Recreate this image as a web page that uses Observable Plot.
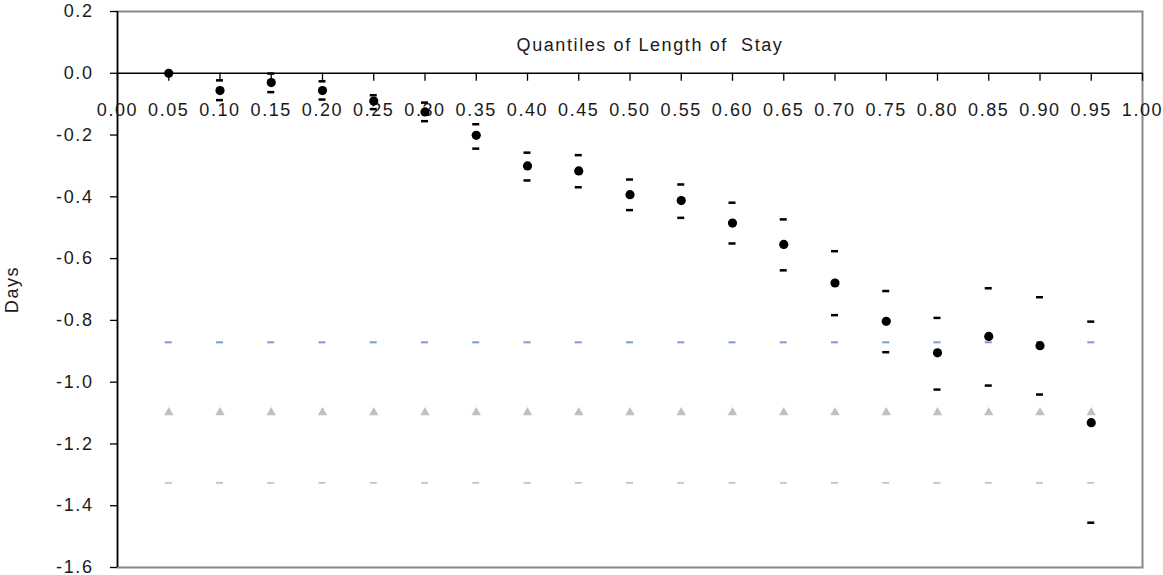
<!DOCTYPE html>
<html><head><meta charset="utf-8">
<script src="https://cdn.jsdelivr.net/npm/d3@7"></script>
<script src="https://cdn.jsdelivr.net/npm/@observablehq/plot@0.6"></script>
<style>
body{margin:0;background:#fff}
</style></head><body><div id="chart"></div>
<script>
// Quantiles of length of stay
const quantiles = [0.05,0.10,0.15,0.20,0.25,0.30,0.35,0.40,0.45,0.50,0.55,0.60,0.65,0.70,0.75,0.80,0.85,0.90,0.95];
// Point estimates (days)
const estimate = [0.000,-0.056,-0.030,-0.056,-0.090,-0.125,-0.201,-0.300,-0.316,-0.393,-0.412,-0.485,-0.554,-0.679,-0.803,-0.905,-0.852,-0.882,-1.131];
// Upper / lower confidence bounds
const upper = [0.000,-0.023,-0.001,-0.026,-0.071,-0.095,-0.165,-0.257,-0.265,-0.344,-0.360,-0.419,-0.473,-0.576,-0.705,-0.792,-0.696,-0.725,-0.804];
const lower = [0.000,-0.087,-0.061,-0.085,-0.116,-0.155,-0.244,-0.347,-0.369,-0.443,-0.468,-0.551,-0.638,-0.783,-0.903,-1.024,-1.011,-1.040,-1.455];
// Reference series (constant across quantiles)
const refUpper = [-0.871,-0.871,-0.871,-0.871,-0.871,-0.871,-0.871,-0.871,-0.871,-0.871,-0.871,-0.871,-0.871,-0.871,-0.871,-0.871,-0.871,-0.871,-0.871];
const refMean  = [-1.098,-1.098,-1.098,-1.098,-1.098,-1.098,-1.098,-1.098,-1.098,-1.098,-1.098,-1.098,-1.098,-1.098,-1.098,-1.098,-1.098,-1.098,-1.098];
const refLower = [-1.326,-1.326,-1.326,-1.326,-1.326,-1.326,-1.326,-1.326,-1.326,-1.326,-1.326,-1.326,-1.326,-1.326,-1.326,-1.326,-1.326,-1.326,-1.326];
// Tick values
const xTicks = [0.00,0.05,0.10,0.15,0.20,0.25,0.30,0.35,0.40,0.45,0.50,0.55,0.60,0.65,0.70,0.75,0.80,0.85,0.90,0.95,1.00];
const yTicks = [0.2,0.0,-0.2,-0.4,-0.6,-0.8,-1.0,-1.2,-1.4,-1.6];
const titleText = "Quantiles of Length of \u00a0Stay";
const yLabel = "Days";

const rows = quantiles.map((q,i)=>({q, est:estimate[i], lo:lower[i], hi:upper[i], r1:refUpper[i], r2:refMean[i], r3:refLower[i]}));

const FS = 18;
const dash = (y, stroke, w, half) => Plot.ruleY(rows, {y, x1:"q", x2:"q", insetLeft:-half, insetRight:-half, stroke, strokeWidth:w});

const chart = Plot.plot({
  width:1163, height:575,
  marginTop:11, marginBottom:8, marginLeft:117, marginRight:21,
  style:{fontSize:FS+"px", fontFamily:"'Liberation Sans', Arial, sans-serif", color:"#1a1a1a", letterSpacing:"1.6px", background:"#fff"},
  x:{domain:[0,1], axis:null},
  y:{domain:[-1.6,0.2]},
  marks:[
    Plot.frame({stroke:"#888", strokeWidth:2}),
    Plot.axisY({ticks:yTicks, tickFormat:d=>d.toFixed(1), tickSize:7, tickPadding:17, stroke:"#000", strokeWidth:1.3, fontSize:FS,
      label:yLabel, labelAnchor:"center", labelArrow:"none", labelOffset:112}),
    Plot.ruleX([0], {stroke:"#000", strokeWidth:1.5}),
    Plot.ruleY([0], {stroke:"#000", strokeWidth:1.5}),
    Plot.ruleX(xTicks, {x:d=>d, y1:0, y2:0, insetBottom:-8, stroke:"#000", strokeWidth:1.3}),
    Plot.text(xTicks, {x:d=>d, y:0, text:d=>d.toFixed(2), dy:37, lineAnchor:"middle", fill:"#1a1a1a", fontSize:FS}),
    dash("r1", "#7b9bd0", 2, 3.5),
    Plot.dot(rows, {x:"q", y:"r2", symbol:"triangle", r:3.5, fill:"#c0c0c0"}),
    dash("r3", "#c8c8c8", 2, 3.5),
    dash("hi", "#000", 2.5, 3.5),
    dash("lo", "#000", 2.5, 3.5),
    Plot.dot(rows, {x:"q", y:"est", r:4.6, fill:"#000"}),
    Plot.text([titleText], {frameAnchor:"top", dx:20, dy:34, lineAnchor:"middle", fill:"#1a1a1a", fontSize:FS})
  ]
});
document.getElementById("chart").appendChild(chart);
</script></body></html>
